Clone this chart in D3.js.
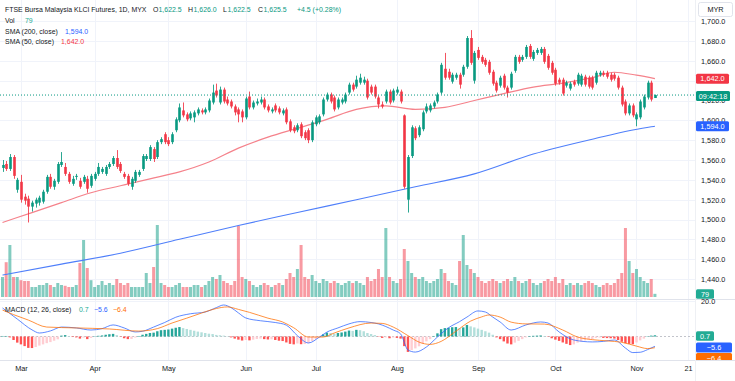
<!DOCTYPE html>
<html><head><meta charset="utf-8">
<script src="https://cdn.jsdelivr.net/npm/d3@7"></script>
<style>
body{margin:0;background:#fff;}
svg{display:block;font-family:"Liberation Sans",Arial,sans-serif;}
</style>
</head><body>
<svg id="c" width="735" height="381"></svg>
<script>
// ---------- DATA ----------
const opens=[1552,1556,1551,1563,1530,1538,1523,1521,1513,1516,1517,1518,1528,1543,1533,1538,1555,1553,1546,1536,1543,1539,1538,1541,1534,1541,1546,1548,1546,1553,1556,1562,1556,1546,1544,1533,1539,1545,1551,1561,1561,1571,1563,1578,1586,1580,1578,1590,1600,1610,1606,1602,1603,1607,1610,1608,1610,1618,1630,1618,1631,1621,1619,1614,1611,1609,1603,1624,1613,1617,1618,1621,1614,1609,1615,1612,1607,1611,1599,1593,1590,1596,1588,1590,1580,1596,1598,1606,1621,1626,1623,1613,1618,1619,1628,1636,1634,1638,1638,1640,1634,1634,1623,1616,1619,1629,1620,1628,1629,1605,1520,1564,1592,1585,1591,1609,1610,1614,1619,1628,1652,1649,1639,1643,1646,1646,1654,1683,1640,1671,1664,1661,1659,1649,1638,1635,1645,1633,1633,1650,1664,1661,1664,1675,1662,1668,1668,1672,1665,1658,1651,1641,1641,1635,1632,1639,1637,1636,1644,1643,1643,1638,1646,1648,1648,1646,1646,1643,1633,1619,1607,1615,1601,1603,1613,1623,1638,1622.5];
const highs=[1560,1559,1566,1565,1542,1545,1526,1524,1519,1522,1524,1530,1545,1546,1541,1558,1568,1557,1548,1544,1546,1542,1545,1544,1546,1548,1557,1553,1555,1558,1564,1570,1558,1548,1546,1543,1550,1550,1566,1566,1575,1573,1580,1583,1588,1583,1588,1603,1617,1618,1608,1609,1610,1613,1612,1613,1622,1636,1637,1634,1633,1624,1621,1616,1613,1611,1624,1629,1620,1622,1624,1623,1616,1613,1617,1614,1612,1613,1601,1595,1597,1598,1590,1592,1600,1605,1606,1623,1628,1628,1625,1623,1623,1628,1638,1638,1645,1647,1644,1642,1636,1636,1625,1619,1631,1631,1632,1634,1631,1606,1565,1595,1594,1595,1610,1617,1617,1620,1628,1658,1668,1652,1648,1648,1648,1656,1685,1691,1670,1674,1666,1663,1661,1651,1640,1645,1647,1635,1649,1666,1666,1666,1676,1677,1671,1673,1674,1674,1667,1660,1653,1643,1643,1640,1639,1641,1648,1647,1646,1645,1645,1650,1650,1650,1650,1648,1648,1645,1635,1621,1617,1617,1608,1621,1626,1640,1640,1626];
const lows=[1548,1549,1549,1541,1527,1517,1515,1497,1508,1512,1514,1516,1526,1531,1530,1536,1553,1544,1536,1534,1540,1531,1536,1527,1532,1539,1544,1546,1544,1551,1554,1551,1547,1541,1534,1530,1537,1543,1549,1559,1559,1558,1561,1576,1576,1574,1576,1588,1598,1603,1599,1600,1598,1605,1606,1606,1608,1616,1623,1616,1617,1615,1612,1605,1598,1598,1601,1611,1611,1615,1616,1611,1608,1607,1608,1606,1605,1596,1588,1587,1588,1582,1580,1577,1578,1594,1596,1604,1619,1617,1609,1611,1616,1617,1626,1629,1632,1636,1636,1621,1626,1622,1612,1612,1617,1616,1618,1626,1617,1531,1507,1562,1580,1583,1589,1607,1608,1612,1617,1626,1641,1641,1637,1641,1632,1644,1652,1656,1637,1661,1657,1654,1646,1635,1628,1633,1631,1623,1631,1648,1657,1659,1662,1662,1660,1666,1666,1657,1651,1646,1635,1636,1625,1633,1630,1634,1635,1634,1634,1632,1631,1636,1644,1644,1642,1639,1640,1631,1614,1605,1605,1603,1594,1601,1611,1621,1619,1622.5];
const closes=[1555,1551,1563,1544,1540,1520,1519,1513,1517,1520,1522,1528,1543,1533,1539,1556,1558,1546,1538,1541,1544,1533,1543,1531,1544,1546,1553,1551,1553,1556,1562,1553,1549,1543,1536,1541,1548,1548,1564,1564,1573,1561,1578,1581,1578,1576,1586,1601,1613,1605,1601,1607,1608,1611,1608,1611,1620,1628,1625,1631,1619,1617,1614,1608,1606,1603,1622,1613,1618,1619,1621,1613,1610,1611,1610,1608,1610,1598,1590,1589,1595,1584,1582,1580,1598,1603,1604,1621,1626,1619,1611,1621,1621,1626,1636,1631,1641,1643,1641,1623,1628,1624,1616,1614,1629,1618,1630,1631,1619,1533,1563,1593,1582,1593,1608,1614,1615,1618,1626,1656,1643,1643,1646,1646,1636,1654,1683,1658,1668,1663,1659,1656,1648,1637,1630,1643,1633,1628,1647,1664,1659,1664,1674,1664,1669,1671,1672,1659,1653,1648,1637,1638,1627,1638,1637,1636,1646,1645,1636,1634,1633,1648,1648,1646,1644,1641,1642,1633,1616,1607,1615,1605,1606,1619,1624,1638,1621,1625.5];
const volumes=[500,870,1300,500,500,420,400,400,250,250,300,300,350,300,250,350,300,280,250,250,300,850,1425,725,420,250,300,400,300,350,300,450,350,300,350,250,250,250,250,600,350,750,1800,350,300,250,250,300,350,250,250,250,300,300,250,300,400,500,450,550,400,350,300,400,1775,500,450,400,300,250,300,350,300,250,300,350,300,450,600,500,700,1300,500,450,550,400,350,450,400,350,400,350,300,350,400,350,400,350,300,500,400,450,700,500,1725,500,400,350,450,1200,900,600,500,450,500,400,350,400,450,700,600,400,350,300,900,1550,800,700,600,500,400,350,400,450,400,350,400,450,400,500,400,350,400,450,350,300,350,400,450,400,500,350,450,300,350,300,350,300,350,400,350,300,250,300,350,300,350,450,600,1725,900,600,700,500,400,350,450,79];
const histValues=[0.3,0.3,-0.5,-2,-3.5,-4.5,-5.5,-6.5,-6.6,-6,-5.2,-4.5,-3.8,-3.2,-2.4,-1.6,0.5,0.8,0.3,-0.3,-0.5,-1.2,-0.6,-1.5,-0.8,0.2,0.4,0.6,1.0,1.3,1.5,0.8,-0.2,-1.0,-1.5,-1.4,-0.6,0.3,1.0,1.5,2.0,2.2,3.0,3.6,3.8,4.0,4.5,5.0,5.4,4.8,4.3,3.8,3.3,2.8,2.4,2.0,1.6,1.4,0.9,0.7,0.5,0.2,-0.5,-1.2,-1.8,-2.3,-2.0,-2.2,-1.8,-1.4,-1.2,-1.5,-1.7,-1.6,-2.0,-2.4,-2.6,-3.4,-4.2,-4.5,-4.0,-4.4,-4.3,-3.8,-2.6,-1.5,-0.5,1.2,2.2,2.0,1.6,2.0,2.3,2.8,3.4,3.2,3.8,3.6,3.0,2.0,1.4,0.8,-0.2,-0.8,-0.5,-1.0,-0.6,-0.8,-1.2,-5.5,-8.8,-7.8,-6.8,-5.6,-4.2,-2.8,-1.5,0.3,1.8,4.2,4.8,5.0,5.3,5.4,4.8,5.2,6.6,5.8,5.2,4.5,3.8,3.0,2.2,1.0,-0.5,-1.5,-2.8,-4.0,-4.5,-3.5,-2.5,-1.5,-0.5,0.3,0.4,0.5,0.6,0.3,-0.2,-1.0,-1.8,-2.5,-3.4,-4.2,-4.9,-4.5,-3.5,-2.8,-2.2,-1.8,-1.5,-0.8,-0.6,-0.8,-0.9,-1.0,-1.2,-2.0,-3.0,-3.8,-4.2,-4.4,-3.4,-2.2,-1.2,0.2,0.5,0.7];
// sampled indicator lines: [bar index, value]
const macdPts=[[0,16.3],[4,10],[8,3.8],[10,2.0],[13,3.2],[16,5.4],[20,4.9],[24,3.7],[27,4.5],[30,6.6],[33,4.9],[36,2.6],[38,3.0],[41,5.4],[44,8.0],[47,11.0],[51,13.0],[55,14.0],[58,16.5],[60,18],[62,16.5],[64,13.5],[66,10.6],[70,9.0],[74,8.0],[77,6.5],[80,0.5],[83,-3.7],[86,-0.3],[88,2.5],[91,4.9],[94,7.2],[97,8.5],[100,8.0],[102,7.2],[106,3.7],[108,1.5],[110,-7.7],[112,-8.9],[115,-6.0],[118,-0.3],[121,5.0],[124,8.5],[126,11.1],[129,14.6],[131,14.0],[133,11.1],[135,8.3],[138,3.7],[142,6.6],[146,8.3],[148,7.7],[151,2.6],[155,-2.0],[160,-3.1],[163,-2.8],[166,-2.0],[169,-6.6],[171,-9.2],[173,-9.0],[175,-7.5],[177,-5.6]];
const signalPts=[[0,15.1],[3,12.5],[7,9.4],[12,5.4],[20,4.9],[29,4.3],[37,3.1],[42,4.5],[46,7.7],[50,10.5],[54,13.4],[58,16.0],[61,16.9],[64,15.5],[67,13.8],[72,10.5],[76,8.3],[79,5.0],[83,-0.3],[87,-0.3],[90,2.0],[94,4.9],[100,7.7],[103,7.5],[106,5.4],[110,0.5],[113,-3.2],[116,-4.5],[119,-2.8],[123,3.0],[127,8.8],[130,11.2],[132,12.3],[135,11.1],[138,8.2],[142,7.2],[147,7.1],[152,3.7],[156,-0.3],[160,-1.8],[164,-2.5],[168,-3.3],[172,-5.5],[175,-6.9],[177,-6.4]];
const sma50Pts=[[0,1497],[8,1507],[16,1517],[24,1527],[32,1534],[40,1541],[48,1548],[56,1558],[64,1572],[72,1583],[80,1592],[88,1601],[96,1611],[104,1614.5],[112,1611],[120,1613],[128,1620],[136,1627],[144,1633.5],[152,1637.5],[160,1643],[166,1648.5],[172,1645.5],[177,1642]];
const sma200Pts=[[0,1444],[16,1455],[32,1466],[48,1480],[64,1494],[80,1507],[96,1520],[112,1533],[128,1546],[144,1566],[160,1581],[176,1593.5],[177,1594]];
const monthIdx=[5,25,45,66,85,107,129,150,172,186];
const monthLabels=["Mar","Apr","May","Jun","Jul","Aug","Sep","Oct","Nov","21"];
const priceTicks=[1440,1460,1480,1500,1520,1540,1560,1580,1600,1620,1640,1660,1680,1700];
const shownPriceLabels=[1440,1460,1480,1500,1520,1540,1560,1580,1600,1620,1660,1680,1700];

// ---------- CHART ----------
const W=735,H=381,PR=695;
const UP="#089981",DN="#F23645",TXT="#131722",GRID="#f0f3fa",FS=7.3,LFS=6.95;
const svg=d3.select("#c");
const x=d3.scaleLinear().domain([0,186]).range([2.5,688.1]);
const yP=d3.scaleLinear().domain([1440,1680]).range([279,41]);
const yV=d3.scaleLinear().domain([0,1800]).range([297,225]);
const yM=d3.scaleLinear().domain([0,20]).range([336.5,301.5]);

const defs=svg.append("defs");
defs.append("clipPath").attr("id","cp").append("rect").attr("x",0).attr("y",0).attr("width",PR).attr("height",299);
defs.append("clipPath").attr("id","cm").append("rect").attr("x",0).attr("y",300).attr("width",PR).attr("height",60);
defs.append("clipPath").attr("id","ca").append("rect").attr("x",PR).attr("y",300).attr("width",W-PR).attr("height",60);

// grid
const g=svg.append("g");
g.selectAll(".hg").data(priceTicks).join("line")
 .attr("x1",0).attr("x2",PR).attr("y1",d=>Math.round(yP(d))+0.5).attr("y2",d=>Math.round(yP(d))+0.5)
 .attr("stroke",GRID).attr("stroke-width",1);
g.selectAll(".vg").data(monthIdx).join("line")
 .attr("x1",d=>Math.round(x(d))+0.5).attr("x2",d=>Math.round(x(d))+0.5).attr("y1",0).attr("y2",360)
 .attr("stroke",GRID).attr("stroke-width",1);
g.append("line").attr("x1",0).attr("x2",PR).attr("y1",yM(20)).attr("y2",yM(20)).attr("stroke",GRID);

const idx=d3.range(closes.length);
// price pane
const pp=svg.append("g").attr("clip-path","url(#cp)");
pp.selectAll(".vol").data(idx).join("rect")
 .attr("x",i=>x(i)-1.5).attr("width",3)
 .attr("y",i=>yV(volumes[i])).attr("height",i=>yV(0)-yV(volumes[i]))
 .attr("fill",i=>closes[i]>=opens[i]?"rgba(8,153,129,0.5)":"rgba(242,54,69,0.5)");

const line=d3.line().x(d=>x(d[0])).y(d=>yP(d[1])).curve(d3.curveMonotoneX);
pp.append("path").attr("d",line(sma200Pts)).attr("fill","none").attr("stroke","#4f7ffa").attr("stroke-width",1.1);
pp.append("path").attr("d",line(sma50Pts)).attr("fill","none").attr("stroke","#f5828b").attr("stroke-width",1.2);

pp.selectAll(".wick").data(idx).join("line")
 .attr("x1",i=>Math.round(x(i))+0.5).attr("x2",i=>Math.round(x(i))+0.5)
 .attr("y1",i=>yP(highs[i])).attr("y2",i=>yP(lows[i]))
 .attr("stroke",i=>closes[i]>=opens[i]?UP:DN).attr("stroke-width",1).attr("opacity",0.85);
pp.selectAll(".body").data(idx).join("rect")
 .attr("x",i=>Math.round(x(i))-0.8).attr("width",2.6)
 .attr("y",i=>yP(Math.max(opens[i],closes[i])))
 .attr("height",i=>Math.max(1,Math.abs(yP(opens[i])-yP(closes[i]))))
 .attr("fill",i=>closes[i]>=opens[i]?UP:DN);

const lastC=closes[closes.length-1];
svg.append("line").attr("x1",0).attr("x2",PR+2).attr("y1",yP(lastC)).attr("y2",yP(lastC))
 .attr("stroke",UP).attr("stroke-width",1).attr("stroke-dasharray","1,2");

// MACD pane
const mp=svg.append("g").attr("clip-path","url(#cm)");
mp.append("line").attr("x1",0).attr("x2",PR).attr("y1",yM(0)).attr("y2",yM(0)).attr("stroke","#b2b5be").attr("stroke-dasharray","2,2").attr("stroke-width",0.8);
mp.selectAll(".h").data(idx).join("rect")
 .attr("x",i=>x(i)-1.2).attr("width",2.4)
 .attr("y",i=>Math.min(yM(0),yM(histValues[i])))
 .attr("height",i=>Math.abs(yM(histValues[i])-yM(0)))
 .attr("fill",i=>{const v=histValues[i],p=i>0?histValues[i-1]:v;
   return v>=0?(v>=p?"#26A69A":"#B2DFDB"):(v<p?"#FF5252":"#FFCDD2");});
const mline=d3.line().x(d=>x(d[0])).y(d=>yM(d[1])).curve(d3.curveMonotoneX);
mp.append("path").attr("d",mline(macdPts)).attr("fill","none").attr("stroke","#2962FF").attr("stroke-width",1).attr("opacity",0.75);
mp.append("path").attr("d",mline(signalPts)).attr("fill","none").attr("stroke","#FF6D00").attr("stroke-width",1).attr("opacity",0.75);

// separators
svg.append("line").attr("x1",0).attr("x2",W).attr("y1",299.5).attr("y2",299.5).attr("stroke","#e0e3eb");
svg.append("line").attr("x1",0).attr("x2",W).attr("y1",360.5).attr("y2",360.5).attr("stroke","#e0e3eb");
svg.append("line").attr("x1",PR+0.5).attr("x2",PR+0.5).attr("y1",0).attr("y2",381).attr("stroke","#eef0f4");

// price axis
const ay=svg.append("g").attr("transform",`translate(${PR},0)`)
 .call(d3.axisRight(yP).tickValues(shownPriceLabels).tickSize(0).tickPadding(6).tickFormat(d3.format(",.1f")));
ay.select(".domain").remove();
ay.selectAll("text").attr("font-size",FS).attr("fill",TXT).attr("font-family","Liberation Sans,Arial,sans-serif");
// macd axis label
svg.append("text").attr("x",PR+6).attr("y",yM(20)).attr("dy","0.35em").attr("font-size",FS).attr("fill",TXT).text("20.0");

// time axis
const ax=svg.append("g").attr("transform","translate(0,361)")
 .call(d3.axisBottom(x).tickValues(monthIdx).tickSize(0).tickPadding(5).tickFormat((d,i)=>monthLabels[i]));
ax.select(".domain").remove();
ax.selectAll("text").attr("font-size",FS).attr("fill",TXT).attr("font-family","Liberation Sans,Arial,sans-serif");

// boxes
function box(xx,yc,w,h,fill,txt,clip){
 const gg=svg.append("g"); if(clip) gg.attr("clip-path",clip);
 gg.append("rect").attr("x",xx).attr("y",yc-h/2).attr("width",w).attr("height",h).attr("rx",1.5).attr("fill",fill);
 gg.append("text").attr("x",xx+w/2).attr("y",yc).attr("dy","0.35em").attr("text-anchor","middle").attr("font-size",FS).attr("fill","#fff").text(txt);
}
const mb=svg.append("g");
mb.append("rect").attr("x",698.5).attr("y",2.5).attr("width",34).attr("height",14).attr("rx",2).attr("fill","#fff").attr("stroke","#e0e3eb");
mb.append("text").attr("x",715.5).attr("y",9.5).attr("dy","0.35em").attr("text-anchor","middle").attr("font-size",FS).attr("fill",TXT).text("MYR");
box(696,yP(1642),33,10,"#F23645","1,642.0");
box(696,96,34,10,"#089981","09:42:18");
box(696,yP(1594),33,10,"#2962FF","1,594.0");
box(696,294,18,9.5,"#22ab94","79");
box(696,336,18,9.5,"#22ab94","0.7");
box(696,347.5,36,10,"#2962FF","\u22125.6");
box(696,358,36,10,"#FF6D00","\u22126.4","url(#ca)");

// legends
function legend(y,parts){
 const t=svg.append("text").attr("y",y).attr("dy","0.35em").attr("font-size",LFS).attr("fill",TXT);
 parts.forEach(p=>{const s=t.append("tspan").attr("x",p[0]).text(p[1]); if(p[2]) s.attr("fill",p[2]);});
}
legend(9.3,[[5,"FTSE Bursa Malaysia KLCI Futures, 1D, MYX"],[153,"O"],[158.5,"1,622.5",UP],[188,"H"],[193.5,"1,626.0",UP],[223,"L"],[227.5,"1,622.5",UP],[258,"C"],[263.5,"1,625.5",UP],[297,"+4.5 (+0.28%)",UP]]);
legend(20.5,[[5,"Vol"],[25,"79","#22ab94"]]);
legend(31.5,[[5,"SMA (200, close)"],[65,"1,594.0","#2962FF"]]);
legend(41.5,[[5,"SMA (50, close)"],[61,"1,642.0","#F23645"]]);
legend(310,[[5,"MACD (12, 26, close)"],[79,"0.7","#22ab94"],[94,"\u22125.6","#2962FF"],[113,"\u22126.4","#FF6D00"]]);
</script>
</body></html>
